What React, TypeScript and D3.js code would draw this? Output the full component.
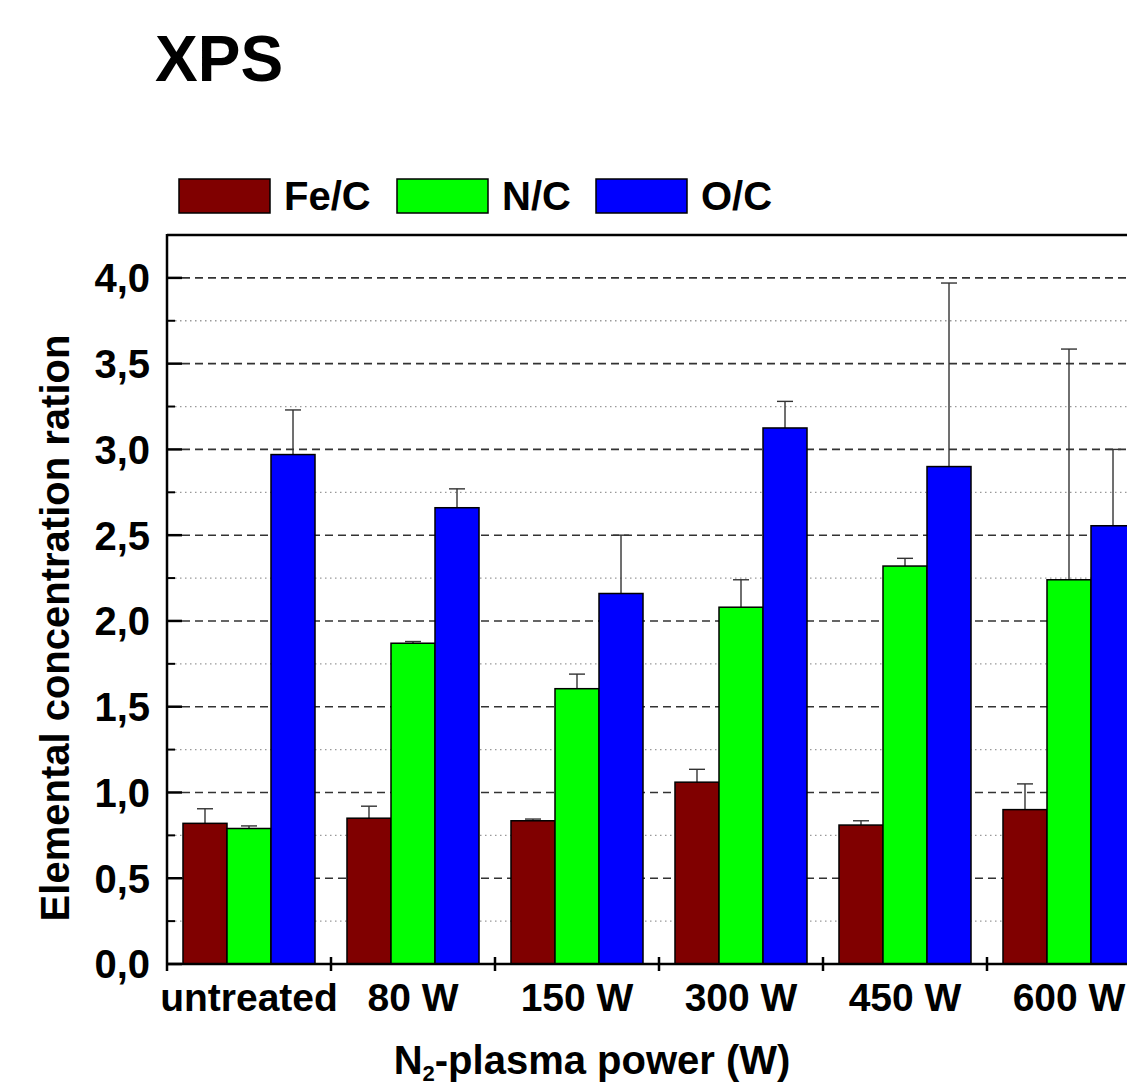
import React from 'react'
import * as d3 from 'd3'

const categories = ['untreated', '80 W', '150 W', '300 W', '450 W', '600 W']
const seriesNames = ['Fe/C', 'N/C', 'O/C']
const feC = [0.82, 0.85, 0.835, 1.06, 0.81, 0.90]
const feCErr = [0.085, 0.07, 0.01, 0.075, 0.025, 0.15]
const nC = [0.79, 1.87, 1.605, 2.08, 2.32, 2.24]
const nCErr = [0.015, 0.01, 0.085, 0.16, 0.045, 1.345]
const oC = [2.97, 2.66, 2.16, 3.125, 2.90, 2.555]
const oCErr = [0.26, 0.11, 0.34, 0.155, 1.07, 0.445]
const yTicks = [0, 0.5, 1.0, 1.5, 2.0, 2.5, 3.0, 3.5, 4.0]
const yMinor = [0.25, 0.75, 1.25, 1.75, 2.25, 2.75, 3.25, 3.75]
const colors = ['#800000', '#00ff00', '#0000ff']

const values = [feC, nC, oC]
const errors = [feCErr, nCErr, oCErr]

const font = '"Liberation Sans", Arial, Helvetica, sans-serif'

const App = () => {
  const W = 1127
  const H = 1088
  const left = 167
  const top = 235
  const bottom = 964
  const right = 1151

  const x = d3.scaleBand().domain(categories).range([left, right])
    .paddingInner(0.195).paddingOuter(0.0975)
  const xs = d3.scaleBand().domain(seriesNames).range([0, x.bandwidth()])
  const y = d3.scaleLinear().domain([0, 4.25]).range([bottom, top])

  const fmt = (v: number) => v.toFixed(1).replace('.', ',')
  const boundaries = categories.slice(1).map(c => (x(c) as number) - (x.step() - x.bandwidth()) / 2)
  const legendX = [179, 397, 596]

  return (
    <svg width={W} height={H} style={{ position: 'absolute', left: 0, top: 0, background: '#fff' }}
      fontFamily={font} fontWeight="bold">
      <text x={155} y={81} fontSize={64}>XPS</text>

      {/* legend */}
      {seriesNames.map((s, i) => (
        <g key={s}>
          <rect x={legendX[i]} y={179} width={91} height={34} fill={colors[i]} stroke="#000" strokeWidth={1.5} />
          <text x={legendX[i] + 105} y={210} fontSize={40}>{s}</text>
        </g>
      ))}

      {/* grid */}
      {yMinor.map(v => (
        <line key={'m' + v} x1={left + 8} x2={W} y1={y(v)} y2={y(v)} stroke="#999" strokeWidth={1.3} strokeDasharray="1.5,3.5" />
      ))}
      {yTicks.slice(1).map(v => (
        <line key={'g' + v} x1={left + 15} x2={W} y1={y(v)} y2={y(v)} stroke="#333" strokeWidth={1.6} strokeDasharray="8,5" />
      ))}

      {/* bars */}
      {categories.map((c, ci) => (
        <g key={c}>
          {seriesNames.map((s, si) => {
            const bx = (x(c) as number) + (xs(s) as number)
            const v = values[si][ci]
            const cx = bx + xs.bandwidth() / 2
            return (
              <g key={s}>
                <line x1={cx} x2={cx} y1={y(v)} y2={y(v + errors[si][ci])} stroke="#333" strokeWidth={1.4} />
                <line x1={cx - 8} x2={cx + 8} y1={y(v + errors[si][ci])} y2={y(v + errors[si][ci])} stroke="#333" strokeWidth={1.4} />
                <rect x={bx} y={y(v)} width={xs.bandwidth()} height={bottom - y(v)} fill={colors[si]} stroke="#000" strokeWidth={1.5} />
              </g>
            )
          })}
        </g>
      ))}

      {/* frame */}
      <line x1={left} x2={W} y1={top} y2={top} stroke="#000" strokeWidth={2.5} />
      <line x1={left} x2={left} y1={top - 1} y2={bottom + 7} stroke="#000" strokeWidth={2.5} />
      <line x1={left} x2={W} y1={bottom} y2={bottom} stroke="#000" strokeWidth={2.5} />

      {/* y ticks */}
      {yTicks.map(v => (
        <g key={'t' + v}>
          <line x1={left} x2={left + 15} y1={y(v)} y2={y(v)} stroke="#000" strokeWidth={2.5} />
          <text x={150} y={y(v)} dy="0.36em" fontSize={40} textAnchor="end">{fmt(v)}</text>
        </g>
      ))}
      {yMinor.map(v => (
        <line key={'mt' + v} x1={left} x2={left + 8} y1={y(v)} y2={y(v)} stroke="#000" strokeWidth={2} />
      ))}

      {/* x ticks */}
      {boundaries.map((bx, i) => (
        <line key={'xb' + i} x1={bx} x2={bx} y1={bottom - 7} y2={bottom + 7} stroke="#000" strokeWidth={2.5} />
      ))}
      {categories.map(c => (
        <text key={'xl' + c} x={(x(c) as number) + x.bandwidth() / 2} y={1011} fontSize={39} textAnchor="middle">{c}</text>
      ))}

      <text x={592} y={1074} fontSize={40} textAnchor="middle">
        N<tspan fontSize={22} dy={7}>2</tspan><tspan dy={-7}>-plasma power (W)</tspan>
      </text>
      <text transform="translate(69,628) rotate(-90)" fontSize={40} textAnchor="middle">Elemental concentration ration</text>
    </svg>
  )
}

export default App
